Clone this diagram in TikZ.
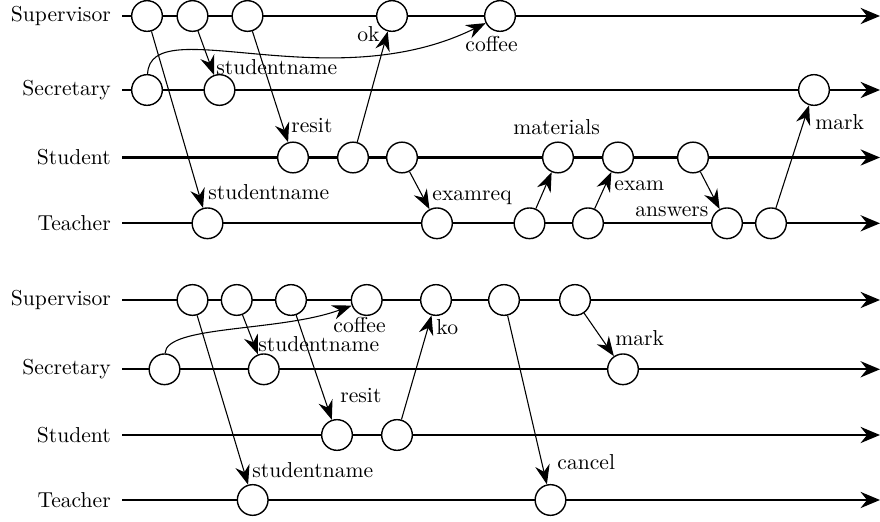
\documentclass[tikz,border=0pt]{standalone}
\usetikzlibrary{arrows.meta}
\begin{document}
\begin{tikzpicture}[x=0.463pt,y=-0.463pt,
  rowlabel/.style={anchor=east,inner xsep=5pt,inner ysep=0pt},
  lifeline/.style={line width=0.95pt,-{Stealth[length=9pt,width=7.5pt,inset=3pt]}},
  ev/.style={circle,draw,fill=white,minimum size=14.2pt,inner sep=0pt,line width=0.65pt},
  msg/.style={line width=0.5pt,-{Stealth[length=9pt,width=6.8pt,inset=3pt]}},
  msglabel/.style={anchor=base west,inner sep=0pt}]
\useasboundingbox (0,0) rectangle (880,522);

% ---------- top diagram ----------
\node[rowlabel] (tSup) at (122,16) {Supervisor};
\node[rowlabel] (tSec) at (122,90) {Secretary};
\node[rowlabel] (tStu) at (122,157.5) {Student};
\node[rowlabel] (tTea) at (122,223.3) {Teacher};
\coordinate (tSupE) at (880,16);
\coordinate (tSecE) at (880,90);
\coordinate (tStuE) at (880,157.5);
\coordinate (tTeaE) at (880,223.3);
\draw[lifeline] (tSup.east) -- (tSupE);
\draw[lifeline] (tSec.east) -- (tSecE);
\draw[lifeline] (tStu.east) -- (tStuE);
\draw[lifeline] (tTea.east) -- (tTeaE);

\node[ev] (sup1) at (147,16) {};
\node[ev] (sup2) at (192.5,16) {};
\node[ev] (sup3) at (247.5,16) {};
\node[ev] (sup4) at (392,16) {};
\node[ev] (sup5) at (500,16) {};
\node[ev] (sec1) at (147,90) {};
\node[ev] (sec2) at (219.5,90) {};
\node[ev] (sec3) at (814,90) {};
\node[ev] (stu1) at (293,157.5) {};
\node[ev] (stu2) at (353,157.5) {};
\node[ev] (stu3) at (402,157.5) {};
\node[ev] (stu4) at (558,157.5) {};
\node[ev] (stu5) at (618,157.5) {};
\node[ev] (stu6) at (693,157.5) {};
\node[ev] (tea1) at (207.5,223.3) {};
\node[ev] (tea2) at (437,223.3) {};
\node[ev] (tea3) at (529.5,223.3) {};
\node[ev] (tea4) at (588,223.3) {};
\node[ev] (tea5) at (727,223.3) {};
\node[ev] (tea6) at (771,223.3) {};

\draw[msg] (sup1) -- (tea1);
\draw[msg] (sup2) -- (sec2);
\draw[msg] (sup3) -- (stu1);
\draw[msg] (stu2) -- (sup4);
\draw[msg] (sec1) .. controls (150,10) and (330,100) .. (sup5);
\draw[msg] (stu3) -- (tea2);
\draw[msg] (tea3) -- (stu4);
\draw[msg] (tea4) -- (stu5);
\draw[msg] (stu6) -- (tea5);
\draw[msg] (tea6) -- (sec3);

\node[msglabel] (l1) at (216,75) {studentname};
\node[msglabel] (l2) at (208,200) {studentname};
\node[msglabel] (l3) at (291,133) {resit};
\node[msglabel] (l4) at (357,42) {ok};
\node[msglabel] (l5) at (465,52) {coffee};
\node[msglabel] (l6) at (513,135) {materials};
\node[msglabel] (l7) at (815,130) {mark};
\node[msglabel] (l8) at (432,201) {examreq};
\node[msglabel] (l9) at (614,191) {exam};
\node[msglabel] (l10) at (635,217) {answers};

% ---------- bottom diagram ----------
\node[rowlabel] (bSup) at (122,300) {Supervisor};
\node[rowlabel] (bSec) at (122,369.3) {Secretary};
\node[rowlabel] (bStu) at (122,435) {Student};
\node[rowlabel] (bTea) at (122,500) {Teacher};
\coordinate (bSupE) at (880,300);
\coordinate (bSecE) at (880,369.3);
\coordinate (bStuE) at (880,435);
\coordinate (bTeaE) at (880,500);
\draw[lifeline] (bSup.east) -- (bSupE);
\draw[lifeline] (bSec.east) -- (bSecE);
\draw[lifeline] (bStu.east) -- (bStuE);
\draw[lifeline] (bTea.east) -- (bTeaE);

\node[ev] (bsup1) at (192.5,300) {};
\node[ev] (bsup2) at (236.7,300) {};
\node[ev] (bsup3) at (291,300) {};
\node[ev] (bsup4) at (366.7,300) {};
\node[ev] (bsup5) at (436,300) {};
\node[ev] (bsup6) at (504,300) {};
\node[ev] (bsup7) at (575,300) {};
\node[ev] (bsec1) at (164.5,369.3) {};
\node[ev] (bsec2) at (263.8,369.3) {};
\node[ev] (bsec3) at (623,369.3) {};
\node[ev] (bstu1) at (337,435) {};
\node[ev] (bstu2) at (397,435) {};
\node[ev] (btea1) at (252.7,500) {};
\node[ev] (btea2) at (550.5,500) {};

\draw[msg] (bsup1) -- (btea1);
\draw[msg] (bsup2) -- (bsec2);
\draw[msg] (bsup3) -- (bstu1);
\draw[msg] (bstu2) -- (bsup5);
\draw[msg] (bsec1) .. controls (166,325) and (280,332) .. (bsup4);
\draw[msg] (bsup6) -- (btea2);
\draw[msg] (bsup7) -- (bsec3);

\node[msglabel] (m1) at (333,333) {coffee};
\node[msglabel] (m2) at (258,352) {studentname};
\node[msglabel] (m3) at (340,403) {resit};
\node[msglabel] (m4) at (436,335) {ko};
\node[msglabel] (m5) at (615,346) {mark};
\node[msglabel] (m6) at (252,478) {studentname};
\node[msglabel] (m7) at (557,470) {cancel};
\end{tikzpicture}
\end{document}
